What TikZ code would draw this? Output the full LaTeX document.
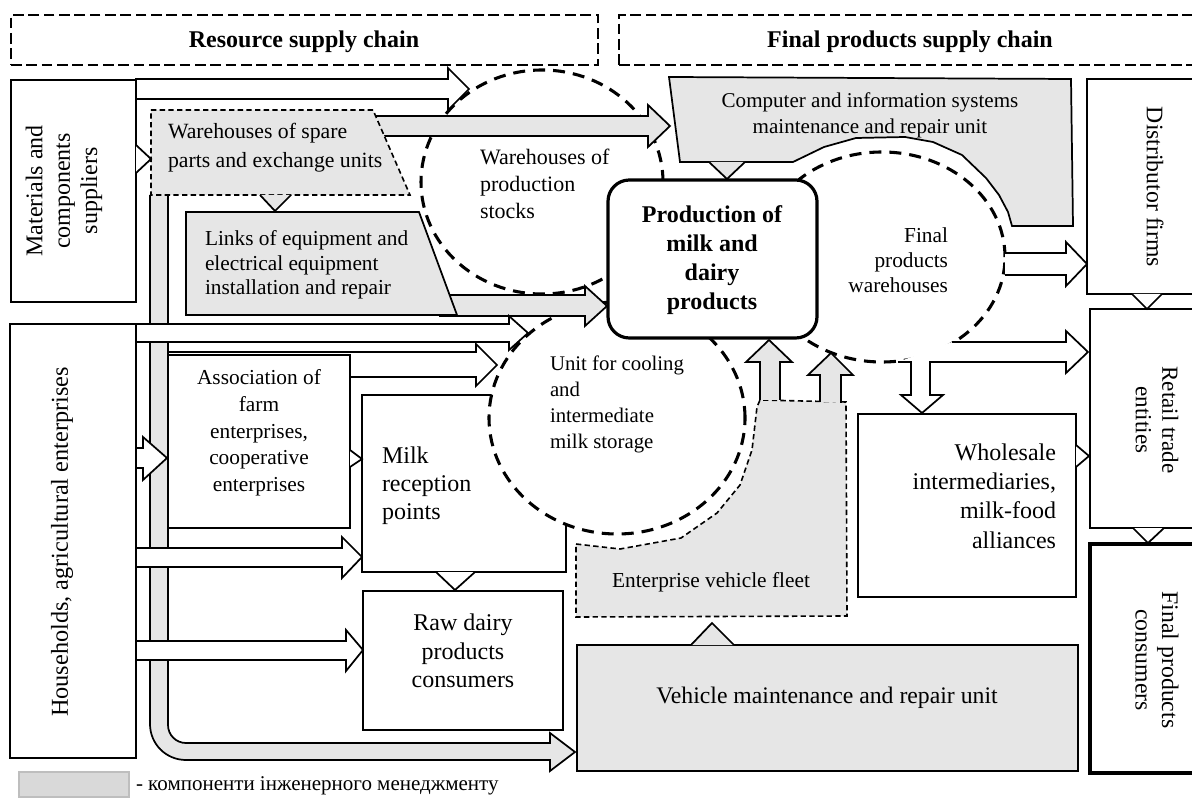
\documentclass[tikz,border=0pt]{standalone}
\usepackage{fontspec}
\setmainfont{Liberation Serif}
\usetikzlibrary{fit,shapes.geometric}
\definecolor{eg}{RGB}{230,230,230}
\definecolor{lg}{RGB}{217,217,217}
\definecolor{lgd}{RGB}{190,190,190}
\begin{document}
\begin{tikzpicture}[x=0.75pt,y=-0.75pt,
  every node/.style={inner sep=0pt,outer sep=0pt},
  box/.style={draw,line width=1.4pt,fill=white},
  gbox/.style={box,fill=eg},
  harrow/.style={draw,line width=1.3pt,fill=white,line join=miter},
  garrow/.style={harrow,fill=eg},
  gshape/.style={draw,line width=1.3pt,fill=eg,line join=miter},
  dshape/.style={draw,line width=1.2pt,fill=eg,dash pattern=on 4pt off 2.5pt},
  tri/.style={draw,line width=1.3pt,fill=white,line join=miter},
  gtri/.style={tri,fill=eg},
  hdr/.style={draw,line width=2.2pt,dash pattern=on 8pt off 3.5pt},
  circ/.style={draw,ellipse,line width=2.3pt,dash pattern=on 9pt off 6pt,fill=white},
]
\useasboundingbox (0,0) rectangle (1192,798);
\clip (0,0) rectangle (1192,798);

% headers
\node[hdr,fit={(11,15)(598,65)}] (hdrL) {};
\node[font=\fontsize{18}{21}\selectfont\bfseries] (hdrLt) at (304,42) {Resource supply chain};
\node[hdr,fit={(619,15)(1203,65)}] (hdrR) {};
\node[font=\fontsize{18}{21}\selectfont\bfseries] (hdrRt) at (910,42) {Final products supply chain};

% pipe
\draw[gshape] (150,195) -- (150,724) .. controls (150,744) and (166,760) .. (186,760)
  -- (550,760) -- (550,771) -- (575,752) -- (550,733) -- (550,743) -- (186,743)
  .. controls (176,743) and (168,735) .. (168,725) -- (168,195);

% boxes
\node[box,fit={(11,80)(136,302)}] (mat) {};
\node[box,fit={(10,324)(136,758)}] (hh) {};
\node[box,fit={(362,395)(566,572)}] (milk) {};
\node[box,fit={(363,591)(563,730)}] (raw) {};
\node[box,fit={(858,414)(1076,597)}] (ws) {};
\node[box,fit={(1087,79)(1230,294)}] (dist) {};
\node[box,fit={(1090,309)(1230,528)}] (ret) {};
\node[box,line width=2.4pt,fit={(1090,544)(1230,773)}] (fc) {};
\node[gbox,fit={(577,645)(1078,771)}] (vm) {};

% dashed circles
\node[circ,minimum width=181.5pt,minimum height=168pt] (stocks) at (542,182) {};
\node[circ,minimum width=192pt,minimum height=174pt] (cool) at (617,418) {};
\node[circ,minimum width=184.5pt,minimum height=157.5pt] (fw) at (882,257) {};

% computer unit
\draw[gshape] (669,77) -- (1071,79) -- (1073,226) -- (1012,226) -- (1008,212) -- (999,195)
  -- (986,178) -- (962,155) -- (933,142) -- (905,137) -- (856,138) -- (824,147)
  -- (793,162) -- (680,162) -- cycle;
% vehicle fleet
\draw[dshape] (576,544) -- (620,549) -- (681,538) -- (717,513) -- (740,485) -- (752,450)
  -- (757,407) -- (760,400) -- (846,402) -- (847,616) -- (576,617) -- cycle;

% arrows
\draw[harrow] (136,79) -- (448,79) -- (448,68) -- (469,89) -- (448,110) -- (448,99) -- (136,99) -- cycle;
\draw[garrow] (370,116) -- (648,116) -- (648,105) -- (670,126) -- (648,147) -- (648,136) -- (370,136) -- cycle;
\draw[garrow] (440,295) -- (585,295) -- (585,286) -- (607,306) -- (585,326) -- (585,316) -- (440,316) -- cycle;
\draw[harrow] (136,324) -- (509,324) -- (509,316) -- (528,333) -- (509,350) -- (509,342) -- (136,342) -- cycle;
\draw[harrow] (168,352) -- (476,352) -- (476,344) -- (497,365) -- (476,386) -- (476,377) -- (168,377) -- cycle;
\draw[harrow] (136,448) -- (143,448) -- (143,437) -- (167,458) -- (143,480) -- (143,468) -- (136,468) -- cycle;
\draw[harrow] (136,548) -- (342,548) -- (342,537) -- (362,557) -- (342,578) -- (342,567) -- (136,567) -- cycle;
\draw[harrow] (136,641) -- (346,641) -- (346,630) -- (363,650) -- (346,671) -- (346,660) -- (136,660) -- cycle;
\draw[harrow] (1005,253) -- (1066,253) -- (1066,242) -- (1087,264) -- (1066,286) -- (1066,275) -- (1005,275);
\draw[harrow] (952,342) -- (1066,342) -- (1066,331) -- (1088,352) -- (1066,373) -- (1066,362)
  -- (930,362) -- (930,395) -- (943,395) -- (922,413) -- (901,395) -- (911,395) -- (911,362) -- (898,362);
\draw[garrow] (760,400) -- (760,362) -- (746,362) -- (769,340) -- (792,362) -- (780,362) -- (780,400);
\draw[garrow] (820,402) -- (820,375) -- (808,375) -- (831,353) -- (853,375) -- (841,375) -- (841,403);

% boxes drawn over arrows
\node[box,fit={(168,355)(350,528)}] (assoc) {};
\draw[dshape] (151,110) -- (373,110) -- (410,195) -- (151,195) -- cycle;
\draw[gshape] (186,212) -- (419,212) -- (457,315) -- (186,315) -- cycle;
\node[draw,line width=2.4pt,rounded corners=16pt,fill=white,fit={(608,180)(817,338)}] (prod) {};

% small triangle connectors
\draw[tri] (136,145) -- (151,159) -- (136,173);
\draw[gtri] (260,195) -- (275,211) -- (291,195);
\draw[gtri] (709,162) -- (727,179) -- (745,162);
\draw[tri] (1132,294) -- (1147,309) -- (1162,294);
\draw[tri] (1133,528) -- (1148,543) -- (1164,528);
\draw[tri] (1076,445) -- (1089,456) -- (1076,467);
\draw[tri] (350,450) -- (362,459) -- (350,467);
\draw[tri] (436,572) -- (455,590) -- (475,572);
\draw[gtri] (691,645) -- (712,623) -- (734,645);

% texts
\node[rotate=90,align=center,font=\fontsize{18}{20.5}\selectfont] (matt) at (64,191) {Materials and\\components\\suppliers};
\node[rotate=90,font=\fontsize{18.2}{22}\selectfont] (hht) at (62,542) {Households, agricultural enterprises};
\node[anchor=west,align=left,font=\fontsize{16.3}{21.5}\selectfont] (sparet) at (168,148) {Warehouses of spare\\parts and exchange units};
\node[anchor=west,align=left,font=\fontsize{16}{18.5}\selectfont] (linkst) at (205,265) {Links of equipment and\\electrical equipment\\installation and repair};
\node[align=center,font=\fontsize{15.8}{19.5}\selectfont] (compt) at (870,115) {Computer and information systems\\maintenance and repair unit};
\node[anchor=west,align=left,font=\fontsize{16.5}{20}\selectfont] (stockst) at (480,184) {Warehouses of\\production\\stocks};
\node[anchor=west,align=left,font=\fontsize{15.6}{19.5}\selectfont] (coolt) at (550,404) {Unit for cooling\\and\\intermediate\\milk storage};
\node[anchor=east,align=right,font=\fontsize{16}{18.75}\selectfont] (fwt) at (948,260) {Final\\products\\warehouses};
\node[align=center,font=\fontsize{18}{21.75}\selectfont\bfseries] (prodt) at (712,260) {Production of\\milk and\\dairy\\products};
\node[align=center,font=\fontsize{16}{20}\selectfont] (assoct) at (259,433) {Association of\\farm\\enterprises,\\cooperative\\enterprises};
\node[anchor=west,align=left,font=\fontsize{18}{21}\selectfont] (milkt) at (382,486) {Milk\\reception\\points};
\node[align=center,font=\fontsize{18}{21.4}\selectfont] (rawt) at (463,651) {Raw dairy\\products\\consumers};
\node[anchor=east,align=right,font=\fontsize{18}{22}\selectfont] (wst) at (1056,496) {Wholesale\\intermediaries,\\milk-food\\alliances};
\node[font=\fontsize{16}{19}\selectfont] (fleett) at (711,582) {Enterprise vehicle fleet};
\node[font=\fontsize{17.8}{21}\selectfont] (vmt) at (827,698) {Vehicle maintenance and repair unit};
\node[rotate=-90,font=\fontsize{17.8}{21}\selectfont] (distt) at (1155,187) {Distributor firms};
\node[rotate=-90,align=center,font=\fontsize{17.3}{20}\selectfont] (rett) at (1157,420) {Retail trade\\entities};
\node[rotate=-90,align=center,font=\fontsize{17.8}{20}\selectfont] (fct) at (1157,660) {Final products\\consumers};

% legend
\node[fill=lg,draw=lgd,line width=0.8pt,fit={(19,772)(129,797)}] (leg) {};
\node[anchor=west,font=\fontsize{15.75}{19}\selectfont] (legt) at (136,786) {- компоненти інженерного менеджменту};
\end{tikzpicture}
\end{document}
